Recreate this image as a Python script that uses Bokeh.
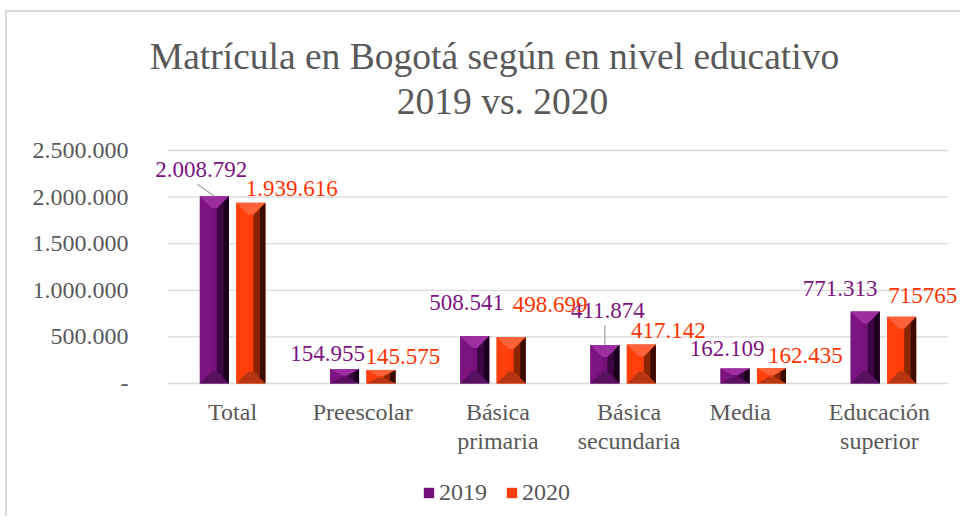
from bokeh.plotting import figure
from bokeh.models import (ColumnDataSource, FixedTicker, Label, Legend, LegendItem)
from bokeh.core.properties import value
from bokeh.embed import file_html
from bokeh.resources import INLINE

# ---------------- data ----------------
categories = ["Total", "Preescolar", "Básica\nprimaria", "Básica\nsecundaria", "Media", "Educación\nsuperior"]
series_names = ["2019", "2020"]
v2019 = [2008792, 154955, 508541, 411874, 162109, 771313]
v2020 = [1939616, 145575, 498699, 417142, 162435, 715765]
lab2019 = ["2.008.792", "154.955", "508.541", "411.874", "162.109", "771.313"]
lab2020 = ["1.939.616", "145.575", "498.699", "417.142", "162.435", "715765"]
y_ticks = [0, 500000, 1000000, 1500000, 2000000, 2500000]
y_tick_labels = ["-", "500.000", "1.000.000", "1.500.000", "2.000.000", "2.500.000"]
title_line1 = "Matrícula en Bogotá según en nivel educativo"
title_line2 = "2019 vs. 2020"

# ---------------- layout / styles ----------------
FONT = "Liberation Serif"
GREY = "#595959"
GRID = "#d9d9d9"
OX, OY = 7, 12            # figure content origin on page
W, H = 955, 506
FRAME_L, FRAME_R, FRAME_T, FRAME_B = 140, 959, 14, 515
GRID_L, GRID_R = 167, 948   # page x of category band edges
GRID_TOP_PX = 150           # page y of the top gridline
PX_PER_Y = 233 / 2500000
n = len(categories)
px_per_x = (GRID_R - GRID_L) / n
x_start = -0.5 - (GRID_L - FRAME_L) / px_per_x
x_end = n - 0.5 + (FRAME_R - GRID_R) / px_per_x
y_end = y_ticks[-1] + (GRID_TOP_PX - FRAME_T) / PX_PER_Y
y_start = y_end - (FRAME_B - FRAME_T) / PX_PER_Y


def page_to_data(px, py):
    return x_start + (px - FRAME_L) / px_per_x, y_end - (py - FRAME_T) / PX_PER_Y


BAR_W = 0.223
OFF = 0.14
BEV_X = 12 / px_per_x
BEV_Y = 12 / PX_PER_Y
STYLE = {
    "2019": dict(main="#76107a", top="#9c2ea0", left="#7c1480", right="#3c0642", edge="#1a001c",
                 bottom="#5a1060", label="#7b1481"),
    "2020": dict(main="#ff3c0a", top="#ff6238", left="#ff400e", right="#8c2602", edge="#3a0c00",
                 bottom="#b83612", label="#ff3300"),
}
# label offsets in screen px (dx, dy up)
lab_off_2019 = [(-13, 27), (-17, 16), (-8, 34), (3, 35), (-8, 20), (-25, 23)]
lab_off_2020 = [(41, 14), (22, 13), (39, 33), (27, 14), (34, 13), (21, 21)]
cat_label_dx = [0, 0, 5, 6, -13, -4]

p = figure(width=W, height=H, output_backend="svg", toolbar_location=None,
           x_range=(x_start, x_end), y_range=(y_start, y_end), x_axis_location=None,
           min_border_left=FRAME_L - OX, min_border_right=OX + W - FRAME_R,
           min_border_top=FRAME_T - OY, min_border_bottom=OY + H - FRAME_B,
           outline_line_color=None, background_fill_color="white", border_fill_color="white")
p.margin = (10, 0, 0, 5)
p.styles = {"border-top": "2px solid #d9d9d9", "border-left": "2px solid #d9d9d9"}

# two-line chart title
for txt, (tx, ty) in [(title_line1, (494, 56)), (title_line2, (502, 101))]:
    dx, dy = page_to_data(tx, ty)
    p.add_layout(Label(x=dx, y=dy, text=txt, text_font=FONT, text_font_size="37.5px",
                       text_color=GREY, text_align="center", text_baseline="middle"))

# gridlines (drawn across the category band only)
p.ygrid.grid_line_color = None
p.xgrid.grid_line_color = None
p.segment(x0=[-0.5] * len(y_ticks), x1=[n - 0.5] * len(y_ticks), y0=y_ticks, y1=y_ticks,
          line_color=GRID, line_width=1.3)

legend_items = []
for name, vals, labs, offs, sgn in [("2019", v2019, lab2019, lab_off_2019, -1),
                                     ("2020", v2020, lab2020, lab_off_2020, 1)]:
    st = STYLE[name]
    xs_c = [i + sgn * OFF for i in range(n)]
    x0 = [x - BAR_W / 2 for x in xs_c]
    x1 = [x + BAR_W / 2 for x in xs_c]
    b = [min(BEV_Y, 0.45 * v) for v in vals]
    top_x, top_y, bot_x, bot_y, lf_x, lf_y, rt_x, rt_y, ed_x, ed_y = ([] for _ in range(10))
    for a, c, h, bb in zip(x0, x1, vals, b):
        top_x.append([a, c, c - BEV_X, a + BEV_X]); top_y.append([h, h, h - bb, h - bb])
        bot_x.append([a, c, c - BEV_X, a + BEV_X]); bot_y.append([0, 0, bb, bb])
        lf_x.append([a, a, a + BEV_X, a + BEV_X]); lf_y.append([0, h, h - bb, bb])
        rt_x.append([c, c, c - BEV_X, c - BEV_X]); rt_y.append([0, h, h - bb, bb])
        e = BEV_X * 0.45
        ed_x.append([c, c, c - e, c - e]); ed_y.append([0, h, h - bb * 0.45, bb * 0.45])
    main = p.quad(left=x0, right=x1, bottom=0, top=vals, fill_color=st["main"], line_color=None)
    p.patches(lf_x, lf_y, fill_color=st["left"], line_color=None)
    p.patches(rt_x, rt_y, fill_color=st["right"], line_color=None)
    p.patches(ed_x, ed_y, fill_color=st["edge"], line_color=None)
    p.patches(bot_x, bot_y, fill_color=st["bottom"], line_color=None)
    p.patches(top_x, top_y, fill_color=st["top"], line_color=None)
    legend_items.append(LegendItem(label=name, renderers=[main]))

    src = ColumnDataSource(dict(x=xs_c, y=vals, t=labs,
                                xo=[o[0] for o in offs], yo=[-o[1] for o in offs]))
    p.text(x="x", y="y", text="t", x_offset="xo", y_offset="yo", source=src,
           text_font=value(FONT), text_font_size="23px", text_color=st["label"],
           text_align="center", text_baseline="middle")

# leader lines (Total 2019 and Básica secundaria 2019)
lead_idx = [0, 3]
lead_dx = [-0.13, 0.0]
lead_dy = [129000, 215000]
sx0 = [i - OFF for i in lead_idx]
sy0 = [v2019[i] for i in lead_idx]
p.segment(x0=sx0, y0=sy0, x1=[x + d for x, d in zip(sx0, lead_dx)],
          y1=[y + d for y, d in zip(sy0, lead_dy)], line_color="#a6a6a6", line_width=1.3)

# category labels (drawn under the zero line)
cat_src = ColumnDataSource(dict(x=list(range(n)), y=[0] * n, t=categories, xo=cat_label_dx))
p.text(x="x", y="y", text="t", source=cat_src, x_offset="xo", y_offset=15,
       text_font=value(FONT), text_font_size="24px", text_color=GREY,
       text_align="center", text_baseline="top", text_line_height=1.12)

# y axis
p.yaxis.ticker = FixedTicker(ticks=y_ticks)
p.yaxis.major_label_overrides = {t: l for t, l in zip(y_ticks, y_tick_labels)}
p.yaxis.axis_line_color = None
p.yaxis.major_tick_line_color = None
p.yaxis.minor_tick_line_color = None
p.yaxis.major_label_text_font = FONT
p.yaxis.major_label_text_font_size = "24px"
p.yaxis.major_label_text_color = GREY
p.yaxis.major_label_standoff = 6

legend = Legend(items=legend_items, orientation="horizontal", location=(422 - FRAME_L, 9),
                label_text_font=FONT, label_text_font_size="24px", label_text_color=GREY,
                glyph_width=13, glyph_height=13, spacing=18, label_standoff=4,
                border_line_color=None, background_fill_alpha=0, margin=0, padding=4)
p.add_layout(legend, "center")

open("out.html", "w").write(file_html(p, INLINE))
